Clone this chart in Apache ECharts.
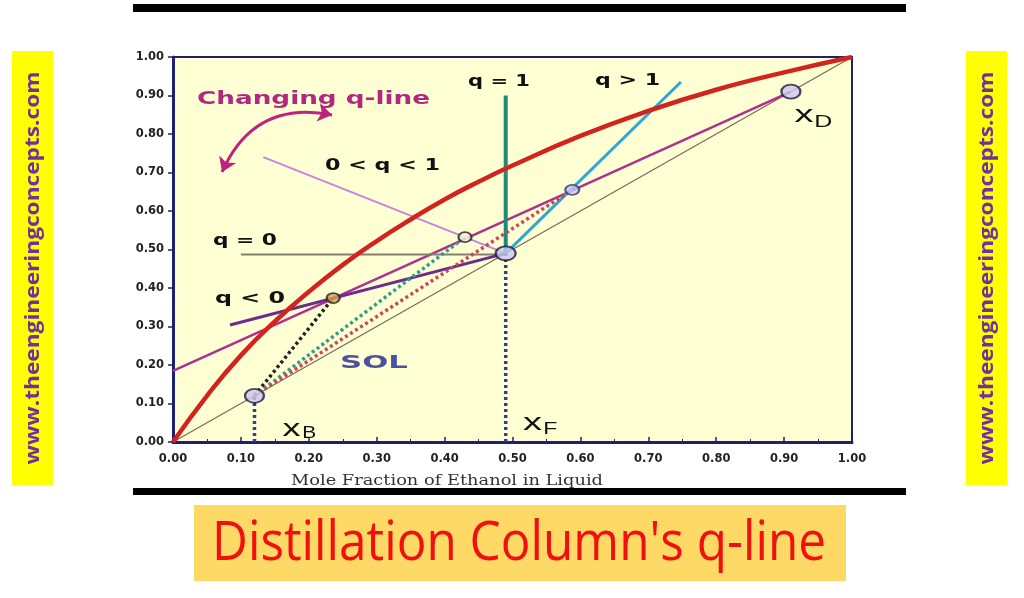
<!DOCTYPE html>
<html><head><meta charset="utf-8">
<script src="https://cdn.jsdelivr.net/npm/echarts@6/dist/echarts.min.js"></script>
<style>html,body{margin:0;padding:0;background:#fff}#c{width:1024px;height:598px}</style>
</head><body><div id="c"></div>
<script>
// ---------- data ----------
const axisTicks = [0, 0.1, 0.2, 0.3, 0.4, 0.5, 0.6, 0.7, 0.8, 0.9, 1.0];
const eqX = [0, 0.05, 0.10, 0.15, 0.20, 0.25, 0.30, 0.35, 0.40, 0.45, 0.50, 0.60, 0.70, 0.80, 0.90, 1.0];
const eqY = [0, 0.12, 0.225, 0.313, 0.39, 0.46, 0.522, 0.578, 0.63, 0.676, 0.718, 0.795, 0.86, 0.915, 0.96, 1.0];
const diagX = [0, 1];
const diagY = [0, 1];
const xB = [0.12, 0.12];
const xF = [0.49, 0.49];
const xD = [0.91, 0.91];
const rectifyingX = [0, 0.91];
const rectifyingY = [0.185, 0.91];
const pQneg = [0.236, 0.374];
const pQpart = [0.43, 0.532];
const pQgt1 = [0.588, 0.655];
const feedQ1End = [0.49, 0.90];
const feedQgt1End = [0.748, 0.935];
const feedQpartStart = [0.133, 0.74];
const feedQ0Start = [0.10, 0.487];
const feedQnegStart = [0.084, 0.304];

const NAVY = '#1F1F75';
const pairs = (xs, ys) => xs.map((x, i) => [x, ys[i]]);

function line(data, color, width, type, z) {
  return { type: 'line', data, showSymbol: false, symbol: 'none', silent: true, z: z || 2,
    lineStyle: { color, width, type: type || 'solid', cap: 'butt' }, animation: false };
}
function dots(data, color) {
  return line(data, color, 3.5, [3, 3], 3);
}
function pt(value, fill, border, size) {
  return { value, symbolSize: size, itemStyle: { color: fill, borderColor: border, borderWidth: 2 } };
}

const chart = echarts.init(document.getElementById('c'));
const option = {
  backgroundColor: '#ffffff',
  animation: false,
  grid: { left: 173, top: 57, width: 679, height: 385, show: true, backgroundColor: '#FFFFD4',
          borderColor: NAVY, borderWidth: 2 },
  xAxis: { type: 'value', min: 0, max: 1, interval: 0.1,
    axisLine: { lineStyle: { color: NAVY, width: 3 } },
    axisTick: { inside: true, length: 5, lineStyle: { color: NAVY, width: 1.5 } },
    minorTick: { show: true, splitNumber: 2, length: 3, lineStyle: { color: NAVY } },
    splitLine: { show: false },
    axisLabel: { margin: 11, color: '#222', fontFamily: 'DejaVu Sans', fontWeight: 'bold', fontSize: 11.5,
      formatter: v => v.toFixed(2) } },
  yAxis: { type: 'value', min: 0, max: 1, interval: 0.1,
    axisLine: { lineStyle: { color: NAVY, width: 3 } },
    axisTick: { inside: false, length: 5, lineStyle: { color: NAVY, width: 1.5 } },
    splitLine: { show: false },
    axisLabel: { margin: 9, color: '#222', fontFamily: 'DejaVu Sans', fontWeight: 'bold', fontSize: 11.5,
      formatter: v => v.toFixed(2) } },
  series: [
    line(pairs(diagX, diagY), '#7E6A5A', 1.3, 'solid', 1),
    Object.assign(line(pairs(eqX, eqY), '#D3231E', 4.5, 'solid', 4), { smooth: true }),
    line(pairs(rectifyingX, rectifyingY), '#B0308E', 2.5, 'solid', 2),
    line([feedQpartStart, xF], '#C883E0', 2, 'solid', 2),
    line([feedQ0Start, [xF[0], feedQ0Start[1]]], '#808070', 2, 'solid', 2),
    line([feedQnegStart, xF], '#6B2C8E', 3, 'solid', 2),
    line([xF, feedQ1End], '#208A78', 4, 'solid', 3),
    line([xF, feedQgt1End], '#2FA6DA', 3, 'solid', 3),
    dots([xB, pQneg], '#222222'),
    dots([xB, pQpart], '#2E9E86'),
    dots([xB, pQgt1], '#C8485A'),
    line([[xB[0], 0], xB], '#2C3E9E', 3.5, [3, 3], 3),
    line([[xF[0], 0], xF], '#2C3E9E', 3.5, [3, 3], 3),
    { type: 'lines', coordinateSystem: 'cartesian2d', silent: true, z: 5,
      symbol: ['arrow', 'arrow'], symbolSize: 14,
      lineStyle: { color: '#C0207F', width: 3, curveness: 0.4, opacity: 1 },
      data: [{ coords: [[0.0722, 0.7013], [0.2342, 0.8494]] }] },
    { type: 'scatter', z: 6, silent: true, symbol: 'circle',
      data: [
        pt(xB, '#C9C8EE', '#1a1a40', [19, 14]),
        pt(xF, '#C9C8EE', '#1a1a40', [20, 14]),
        pt(xD, '#C9C8EE', '#1a1a40', [19, 14]),
        pt(pQneg, '#D9A050', '#222222', [13, 10]),
        pt(pQpart, '#F6F6D8', '#222222', [13, 10]),
        pt(pQgt1, '#C9C8EE', '#3a3a6a', [14, 10])
      ] }
  ]
};
chart.setOption(option);

// ---------- annotations (text placed in data coordinates, stretched like the source) ----------
const annotations = [
  { t: 'Changing q-line', at: [0.2069, 0.8909], w: 233, f: 'bold 17.5px "DejaVu Sans"', c: '#B0287F' },
  { t: '0 < q < 1', at: [0.3085, 0.7169], w: 115, f: 'bold 16px "DejaVu Sans"', c: '#111' },
  { t: 'q = 1', at: [0.4801, 0.935], w: 62, f: 'bold 16px "DejaVu Sans"', c: '#111' },
  { t: 'q > 1', at: [0.6694, 0.9377], w: 65, f: 'bold 16px "DejaVu Sans"', c: '#111' },
  { t: 'q = 0', at: [0.106, 0.522], w: 64, f: 'bold 16px "DejaVu Sans"', c: '#111' },
  { t: 'q < 0', at: [0.1134, 0.3714], w: 70, f: 'bold 16px "DejaVu Sans"', c: '#111' },
  { t: 'SOL', at: [0.296, 0.205], w: 68, f: 'bold 18px "DejaVu Sans"', c: '#4B50A0' },
  { t: 'x', at: [0.1745, 0.033], w: 18, f: '24px "Liberation Sans"', c: '#111' },
  { t: 'B', at: [0.2006, 0.021], w: 14, f: '16px "Liberation Sans"', c: '#111' },
  { t: 'x', at: [0.5295, 0.0488], w: 19, f: '24px "Liberation Sans"', c: '#111' },
  { t: 'F', at: [0.5555, 0.0328], w: 14, f: '16px "Liberation Sans"', c: '#111' },
  { t: 'x', at: [0.9293, 0.8488], w: 19, f: '24px "Liberation Sans"', c: '#111' },
  { t: 'D', at: [0.9576, 0.8302], w: 18, f: '16px "Liberation Sans"', c: '#111' }
];
const mctx = document.createElement('canvas').getContext('2d');
function scaleFor(text, font, w) { mctx.font = font; return w / mctx.measureText(text).width; }

const graphic = [];
// black frame bars of the source picture
graphic.push({ type: 'rect', shape: { x: 133, y: 4, width: 773, height: 8 }, style: { fill: '#000' }, silent: true });
graphic.push({ type: 'rect', shape: { x: 133, y: 488, width: 773, height: 7 }, style: { fill: '#000' }, silent: true });
// side banners
[[12, 51], [966, 51]].forEach(([bx, by]) => {
  graphic.push({ type: 'rect', shape: { x: bx, y: by, width: 41, height: 434 }, style: { fill: '#FFFF00' }, silent: true });
  const f = 'bold 20px "Open Sans"';
  graphic.push({ type: 'text', x: bx + 21, y: by + 217, rotation: Math.PI / 2,
    scaleX: scaleFor('www.theengineeringconcepts.com', f, 393),
    style: { text: 'www.theengineeringconcepts.com', font: f, fill: '#7030A0', align: 'center', verticalAlign: 'middle' }, silent: true });
});
// title box
graphic.push({ type: 'rect', shape: { x: 194, y: 505, width: 652, height: 76 }, style: { fill: '#FFD966' }, silent: true });
{
  const f = '54px "Open Sans"';
  graphic.push({ type: 'text', x: 519, y: 545, scaleX: scaleFor("Distillation Column's q-line", f, 614),
    style: { text: "Distillation Column's q-line", font: f, fill: '#F01010', align: 'center', verticalAlign: 'middle' }, silent: true });
}
// x axis name
{
  const f = '14px "DejaVu Serif"';
  graphic.push({ type: 'text', x: 447, y: 481, scaleX: scaleFor('Mole Fraction of Ethanol in Liquid', f, 312),
    style: { text: 'Mole Fraction of Ethanol in Liquid', font: f, fill: '#333', align: 'center', verticalAlign: 'middle' }, silent: true });
}
annotations.forEach(a => {
  const p = chart.convertToPixel({ gridIndex: 0 }, a.at);
  graphic.push({ type: 'text', x: p[0], y: p[1], scaleX: scaleFor(a.t, a.f, a.w), z: 100,
    style: { text: a.t, font: a.f, fill: a.c, align: 'center', verticalAlign: 'middle' }, silent: true });
});
chart.setOption({ graphic });
</script></body></html>
